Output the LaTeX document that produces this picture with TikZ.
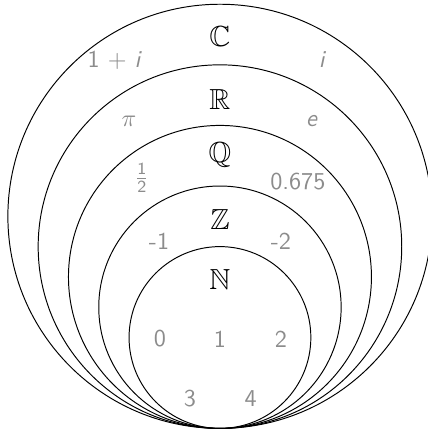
\documentclass[tikz,border=0pt]{standalone}
\usepackage{amsmath,amssymb}
\usepackage{xcolor}
\usepackage{tikz}
\usetikzlibrary{positioning}

\begin{document}
\begin{tikzpicture}[x=0.44cm, y=0.44cm,
  every node/.style={inner sep=0pt},
  setname/.style={font=\large},
  elem/.style={text=black!45, font=\sffamily}]
\useasboundingbox (-7.26,-0.02) rectangle (6.86,14.14);
% nested sets, all touching at the bottom
\foreach \r in {3,4,5,6,7}
  \draw[thin] (0,\r) circle (\r);
% names of the sets
\node[setname] (C) at (0,12.92) {$\mathbb{C}$};
\node[setname] (R) at (0,10.84) {$\mathbb{R}$};
\node[setname] (Q) at (0,9.03) {$\mathbb{Q}$};
\node[setname] (Z) at (0,6.91) {$\mathbb{Z}$};
\node[setname] (N) at (0,4.93) {$\mathbb{N}$};
% elements
\node[elem] (onei) at (-3.47,12.16) {1 $+$ \textit{i}};
\node[elem] (imag) at (3.39,12.16) {\textit{i}};
\node[elem] (pi) at (-3.0,10.15) {$\pi$};
\node[elem] (euler) at (3.04,10.15) {\textit{e}};
\node[elem] (half) at (-2.58,8.27) {$\frac{\textsf{1}}{\textsf{2}}$};
\node[elem] (dec) at (2.57,8.14) {0.675};
\node[elem] (mone) at (-2.01,6.16) {-1};
\node[elem] (mtwo) at (2.01,6.16) {-2};
\node[elem] (zero) at (-1.98,2.95) {0};
\node[elem] (one) at (0,2.95) {1};
\node[elem] (two) at (2.01,2.95) {2};
\node[elem] (three) at (-0.99,0.97) {3};
\node[elem] (four) at (1.01,0.97) {4};
\end{tikzpicture}
\end{document}
